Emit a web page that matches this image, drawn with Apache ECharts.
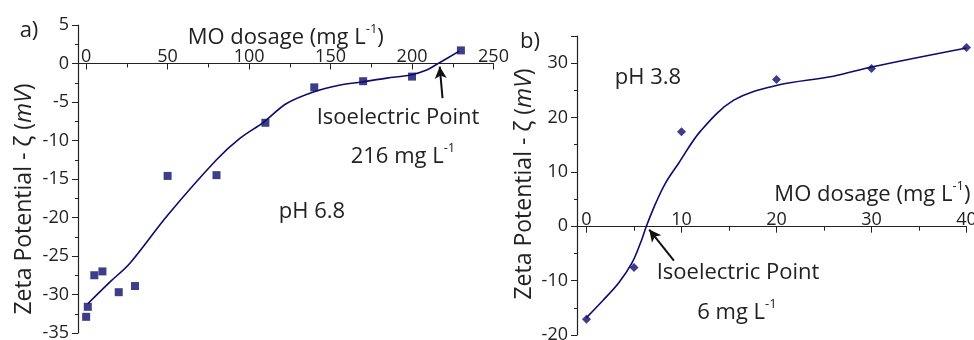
<!DOCTYPE html>
<html>
<head>
<meta charset="utf-8">
<script src="https://cdn.jsdelivr.net/npm/echarts@6/dist/echarts.min.js"></script>
<style>
    html, body { margin: 0; padding: 0; background: #fff; }
    #chart { width: 974px; height: 340px; }
</style>
</head>
<body>
<div id="chart"></div>
<script>
// panel a) pH 6.8 - measured points
var doseA = [0, 1, 5, 10, 20, 30, 50, 80, 110, 140, 170, 200, 230];
var zetaA = [-32.9, -31.6, -27.5, -27.0, -29.7, -28.9, -14.6, -14.5, -7.7, -3.1, -2.3, -1.7, 1.7];
// panel a) fitted curve (read off the picture)
var fitDoseA = [1, 15, 27, 50, 80, 94.5, 109, 123, 139.5, 156, 169, 184.5, 199, 209, 216, 229];
var fitZetaA = [-31.2, -28.3, -25.9, -19.7, -12.5, -9.7, -7.6, -5.2, -3.7, -2.8, -2.4, -1.9, -1.5, -0.85, 0, 1.6];

// panel b) pH 3.8 - measured points
var doseB = [0, 5, 10, 20, 30, 40];
var zetaB = [-17.1, -7.6, 17.4, 27.0, 29.0, 32.9];
// panel b) fitted curve
var fitDoseB = [0, 1.7, 3.4, 4.8, 5.7, 6.3, 7.3, 8.3, 9.7, 12, 15.5, 20, 26, 30, 40];
var fitZetaB = [-16.8, -13.7, -10.4, -6.7, -3.0, 0, 4.3, 7.9, 11.6, 17.5, 23.2, 25.9, 27.6, 29.3, 32.8];

// arrows: [tail, tip] in data units
var arrowA = [[218.7, -4.5], [217, -0.4]];
var arrowB = [[9.2, -6.3], [6.6, -0.6]];

var navy = '#0c0c6c';
var ink = '#222';
var font = 'Open Sans';
var yTitle = '{n|Zeta Potential - ζ (}{i|mV}{n|)}';
var xTitle = '{n|MO dosage (mg L}{s|-1}{n|)}';

function pairs(xs, ys) {
    var res = [];
    for (var i = 0; i < xs.length; i++) {
        res.push([xs[i], ys[i]]);
    }
    return res;
}

function richOf(size) {
    return {
        n: { fontSize: size, fontFamily: font, color: ink, lineHeight: 30 },
        i: { fontSize: size, fontFamily: font, color: ink, lineHeight: 30, fontStyle: 'italic' },
        s: { fontSize: 13, fontFamily: font, color: ink, lineHeight: 13, verticalAlign: 'top' }
    };
}
var supRich = richOf(22);

// x axis sits on the y = 0 line: pulled down into the grid with a negative offset
function xAxisOf(idx, min, max, split, offset, nameLoc, nameGap, nameStyle) {
    return {
        type: 'value',
        gridIndex: idx,
        position: 'top',
        offset: offset,
        min: min,
        max: max,
        splitNumber: split,
        name: xTitle,
        nameLocation: nameLoc,
        nameGap: nameGap,
        nameMoveOverlap: false,
        nameTextStyle: nameStyle,
        axisLine: { onZero: false, lineStyle: { color: ink, width: 1.2 } },
        axisTick: { inside: true, length: 6, lineStyle: { color: ink } },
        minorTick: { show: true, splitNumber: 2, length: 4, lineStyle: { color: ink } },
        axisLabel: { showMinLabel: false, margin: -2, fontSize: 18, fontFamily: font, color: ink },
        splitLine: { show: false }
    };
}

function yAxisOf(idx, min, max, interval) {
    return {
        type: 'value',
        gridIndex: idx,
        min: min,
        max: max,
        interval: interval,
        axisLine: { show: true, onZero: false, lineStyle: { color: ink, width: 1.2 } },
        axisTick: { show: true, length: 6, lineStyle: { color: ink } },
        minorTick: { show: true, splitNumber: 2, length: 3, lineStyle: { color: ink } },
        axisLabel: { showMaxLabel: max % interval === 0, margin: 9, fontSize: 18, fontFamily: font, color: ink },
        splitLine: { show: false }
    };
}

function arrowLine(a) {
    return {
        silent: true,
        animation: false,
        symbol: ['none', 'arrow'],
        symbolSize: [9, 12],
        label: { show: false },
        lineStyle: { color: '#111', width: 2, type: 'solid' },
        data: [[{ coord: a[0] }, { coord: a[1] }]]
    };
}

function label(text, x, y, rotation, rich) {
    return {
        type: 'text',
        x: x,
        y: y,
        rotation: rotation || 0,
        style: {
            text: text,
            rich: rich || supRich,
            fontSize: 22,
            fontFamily: font,
            fill: ink,
            align: 'center',
            verticalAlign: 'middle'
        }
    };
}

var chart = echarts.init(document.getElementById('chart'), null, { renderer: 'canvas' });
chart.setOption({
    animation: false,
    backgroundColor: '#fff',
    grid: [
        { left: 78, top: 25, width: 415.5, height: 308, outerBoundsMode: 'none' },
        { left: 577, top: 36, width: 389.5, height: 299, outerBoundsMode: 'none' }
    ],
    xAxis: [
        xAxisOf(0, -5, 250, 5, -38.5, 'middle', 11, { rich: supRich }),
        xAxisOf(1, -1, 40, 4, -190.7, 'end', 4,
            { rich: supRich, align: 'right', verticalAlign: 'bottom', padding: [0, 0, 17, 0] })
    ],
    yAxis: [
        yAxisOf(0, -35, 5, 5),
        yAxisOf(1, -20, 35, 10)
    ],
    graphic: [
        label(yTitle, 24, 199, Math.PI / 2, richOf(23)),
        label(yTitle, 524, 184, Math.PI / 2, richOf(23)),
        label('{n|a)}', 29, 31),
        label('{n|b)}', 530, 42),
        label('{n|Isoelectric Point}', 398, 118),
        label('{n|216 mg L}{s|-1}', 403, 157),
        label('{n|pH 6.8}', 312, 212),
        label('{n|pH 3.8}', 648, 78),
        label('{n|Isoelectric Point}', 738, 273),
        label('{n|6 mg L}{s|-1}', 737, 313)
    ],
    series: [
        {
            name: 'fit a',
            type: 'line',
            xAxisIndex: 0,
            yAxisIndex: 0,
            smooth: 0.35,
            showSymbol: false,
            lineStyle: { color: navy, width: 1.6 },
            data: pairs(fitDoseA, fitZetaA),
            markLine: arrowLine(arrowA),
            z: 2
        },
        {
            name: 'pH 6.8',
            type: 'scatter',
            xAxisIndex: 0,
            yAxisIndex: 0,
            symbol: 'rect',
            symbolSize: 8,
            itemStyle: { color: navy },
            data: pairs(doseA, zetaA),
            z: 3
        },
        {
            name: 'fit b',
            type: 'line',
            xAxisIndex: 1,
            yAxisIndex: 1,
            smooth: 0.35,
            showSymbol: false,
            lineStyle: { color: navy, width: 1.6 },
            data: pairs(fitDoseB, fitZetaB),
            markLine: arrowLine(arrowB),
            z: 2
        },
        {
            name: 'pH 3.8',
            type: 'scatter',
            xAxisIndex: 1,
            yAxisIndex: 1,
            symbol: 'diamond',
            symbolSize: 9,
            itemStyle: { color: navy },
            data: pairs(doseB, zetaB),
            z: 3
        }
    ]
});
</script>
</body>
</html>
